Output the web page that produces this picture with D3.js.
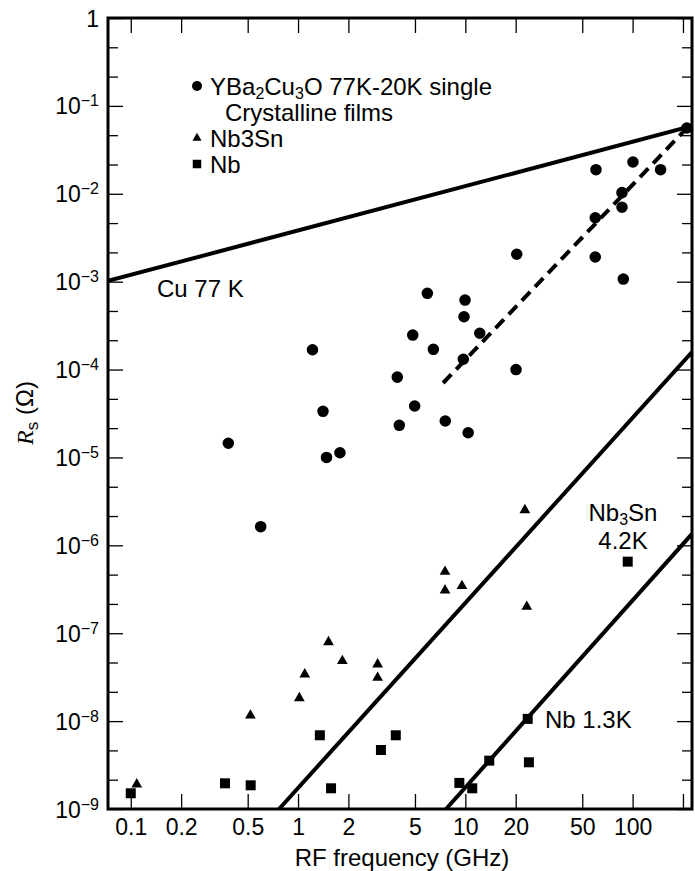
<!DOCTYPE html>
<html><head><meta charset="utf-8">
<script src="https://cdn.jsdelivr.net/npm/d3@7"></script>
<style>
html,body{margin:0;padding:0;background:#fff;}
svg text{font-family:"Liberation Sans",Arial,Helvetica,sans-serif;fill:#000;}
</style></head>
<body><svg id="c" width="695" height="871"></svg>
<script>
// ---- data (GHz, Ohm) ----
const ybcoFreq = [0.383,0.598,1.22,1.41,1.48,1.78,3.92,4.03,4.85,4.98,5.93,6.44,7.59,9.82,9.96,9.73,10.4,12.2,20.1,20.3,60.4,59.8,59.8,86.4,86.4,88,100.5,147,211];
const ybcoRs   = [1.45e-5,1.63e-6,1.68e-4,3.35e-5,1.0e-5,1.13e-5,8.2e-5,2.32e-5,2.47e-4,3.85e-5,7.37e-4,1.70e-4,2.6e-5,3.99e-4,6.18e-4,1.31e-4,1.91e-5,2.59e-4,1.0e-4,2.05e-3,1.88e-2,5.34e-3,1.91e-3,1.03e-2,7.02e-3,1.07e-3,2.3e-2,1.88e-2,5.6e-2];
const nb3snFreq = [0.1086,0.519,1.018,1.097,1.52,1.84,2.99,2.99,7.56,7.56,9.55,22.7,23.3];
const nb3snRs   = [1.91e-9,1.16e-8,1.83e-8,3.41e-8,7.94e-8,4.83e-8,4.43e-8,3.12e-8,5.01e-7,3.08e-7,3.45e-7,2.52e-6,2.0e-7];
const nbFreq = [0.1,0.366,0.521,1.35,1.575,3.13,3.84,9.21,11.0,13.9,23.6,24.0,93.5];
const nbRs   = [1.51e-9,1.96e-9,1.86e-9,6.9e-9,1.72e-9,4.69e-9,6.9e-9,1.98e-9,1.72e-9,3.55e-9,1.06e-8,3.40e-9,6.52e-7];
// reference lines: [freq, Rs] end points
const cuLine    = [[0.0731,1.02e-3],[226.5,5.9e-2]];
const nb3snLine = [[0.77,1e-9],[226.5,1.58e-4]];
const nbLine    = [[7.67,1e-9],[226.5,1.35e-6]];
const ybcoFit   = [[7.36,7.03e-5],[211,5.6e-2]];
// axes
const xDomain = [0.0731, 226.5];
const yDomain = [1e-9, 1];
const xTicks = [0.1,0.2,0.5,1,2,5,10,20,50,100,200];
const xTickLabels = ["0.1","0.2","0.5","1","2","5","10","20","50","100",""];
const yExponents = [0,-1,-2,-3,-4,-5,-6,-7,-8,-9];
const legendLabels = ["YBa2Cu3O 77K-20K single","Crystalline films","Nb3Sn","Nb"];

// ---- layout ----
const L=108,R=692,T=18,B=809;
const svg=d3.select("#c");
const x=d3.scaleLog().domain(xDomain).range([L,R]);
const y=d3.scaleLog().domain(yDomain).range([B,T]);

// bottom & top axes
const xAxB=d3.axisBottom(x).tickValues(xTicks).tickSize(-15).tickPadding(0).tickFormat((d,i)=>xTickLabels[i]);
const gB=svg.append("g").attr("transform",`translate(0,${B})`).call(xAxB);
gB.select(".domain").remove();
gB.selectAll(".tick line").attr("stroke","#000").attr("stroke-width",1.3);
gB.selectAll(".tick text").attr("y",26).attr("dy",null).style("font-size","23px");
const gT=svg.append("g").attr("transform",`translate(0,${T})`).call(d3.axisTop(x).tickValues(xTicks).tickSize(-15).tickFormat(""));
gT.select(".domain").remove();
gT.selectAll(".tick line").attr("stroke","#000").attr("stroke-width",1.3);

// y axes: minor ticks every third of a decade
const minor=[];
for(let e=0;e>-9;e--){minor.push(Math.pow(10,e-1/3),Math.pow(10,e-2/3));}
const decades=yExponents.map(e=>Math.pow(10,e));
[["L",L,d3.axisLeft],["R",R,d3.axisRight]].forEach(([nm,xp,ax])=>{
  const gm=svg.append("g").attr("transform",`translate(${xp},0)`).call(ax(y).tickValues(minor).tickSize(-10).tickFormat(""));
  gm.select(".domain").remove();
  gm.selectAll(".tick line").attr("stroke","#000").attr("stroke-width",1.3);
  const gM=svg.append("g").attr("transform",`translate(${xp},0)`).call(ax(y).tickValues(decades).tickSize(-15).tickFormat(""));
  gM.select(".domain").remove();
  gM.selectAll(".tick line").attr("stroke","#000").attr("stroke-width",1.3);
  if(nm==="L"){
    gM.selectAll(".tick text").each(function(d,i){
      const t=d3.select(this).attr("x",-9).attr("dy",null).attr("y",8).attr("text-anchor","end").style("font-size","23px");
      const e=yExponents[i];
      if(e===0){t.text("1");}
      else{t.text(null);t.append("tspan").text("10");
           t.append("tspan").attr("dy",-8).style("font-size","16px").text("\u2212"+(-e));}
    });
  }
});

// frame
svg.append("rect").attr("x",L).attr("y",T).attr("width",R-L).attr("height",B-T)
  .attr("fill","none").attr("stroke","#000").attr("stroke-width",3);

// clip
svg.append("clipPath").attr("id","pc").append("rect").attr("x",L).attr("y",T).attr("width",R-L).attr("height",B-T);
const plot=svg.append("g").attr("clip-path","url(#pc)");
const line=d3.line().x(d=>x(d[0])).y(d=>y(d[1]));
[cuLine,nb3snLine,nbLine].forEach(l=>plot.append("path").attr("d",line(l)).attr("fill","none").attr("stroke","#000").attr("stroke-width",4));
plot.append("path").attr("d",line(ybcoFit)).attr("fill","none").attr("stroke","#000").attr("stroke-width",4).attr("stroke-dasharray","12,7");

// markers
const sym=(type,size)=>d3.symbol().type(type).size(size)();
const pts=(fx,ry,type,size)=>svg.append("g").selectAll("path").data(fx).join("path")
  .attr("d",sym(type,size)).attr("transform",(d,i)=>`translate(${x(d)},${y(ry[i])})`).attr("fill","#000");
pts(ybcoFreq,ybcoRs,d3.symbolCircle,105);
pts(nb3snFreq,nb3snRs,d3.symbolTriangle,50);
pts(nbFreq,nbRs,d3.symbolSquare,100);

// legend
const lg=svg.append("g");
const fs="24px";
lg.append("path").attr("d",sym(d3.symbolCircle,78)).attr("transform","translate(197,86)");
const t1=lg.append("text").attr("x",210).attr("y",94.5).style("font-size",fs);
t1.append("tspan").text("YBa");
t1.append("tspan").attr("dy",4).style("font-size","16px").text("2");
t1.append("tspan").attr("dy",-4).text("Cu");
t1.append("tspan").attr("dy",4).style("font-size","16px").text("3");
t1.append("tspan").attr("dy",-4).text("O 77K-20K single");
lg.append("text").attr("x",225).attr("y",120.5).style("font-size",fs).text(legendLabels[1]);
lg.append("path").attr("d",sym(d3.symbolTriangle,36)).attr("transform","translate(197,138)");
lg.append("text").attr("x",210).attr("y",146.5).style("font-size",fs).text(legendLabels[2]);
lg.append("path").attr("d",sym(d3.symbolSquare,72)).attr("transform","translate(197,164)");
lg.append("text").attr("x",210).attr("y",172.5).style("font-size",fs).text(legendLabels[3]);

// annotations
svg.append("text").attr("x",157).attr("y",297).style("font-size",fs).text("Cu 77 K");
const tn=svg.append("text").attr("x",623).attr("y",521).attr("text-anchor","middle").style("font-size",fs);
tn.append("tspan").text("Nb");
tn.append("tspan").attr("dy",4).style("font-size","16px").text("3");
tn.append("tspan").attr("dy",-4).text("Sn");
svg.append("text").attr("x",623).attr("y",549).attr("text-anchor","middle").style("font-size",fs).text("4.2K");
svg.append("text").attr("x",545).attr("y",728).style("font-size",fs).text("Nb 1.3K");

// axis titles
svg.append("text").attr("x",402).attr("y",866).attr("text-anchor","middle").style("font-size","24px").text("RF frequency (GHz)");
const yt=svg.append("text").attr("transform","translate(33,413) rotate(-90)").attr("text-anchor","middle").style("font-size","24px");
yt.append("tspan").style("font-family","'Liberation Serif',serif").style("font-style","italic").text("R");
yt.append("tspan").attr("dy",5).style("font-size","17px").text("s");
yt.append("tspan").attr("dy",-5).text(" (\u03A9)");
</script></body></html>
